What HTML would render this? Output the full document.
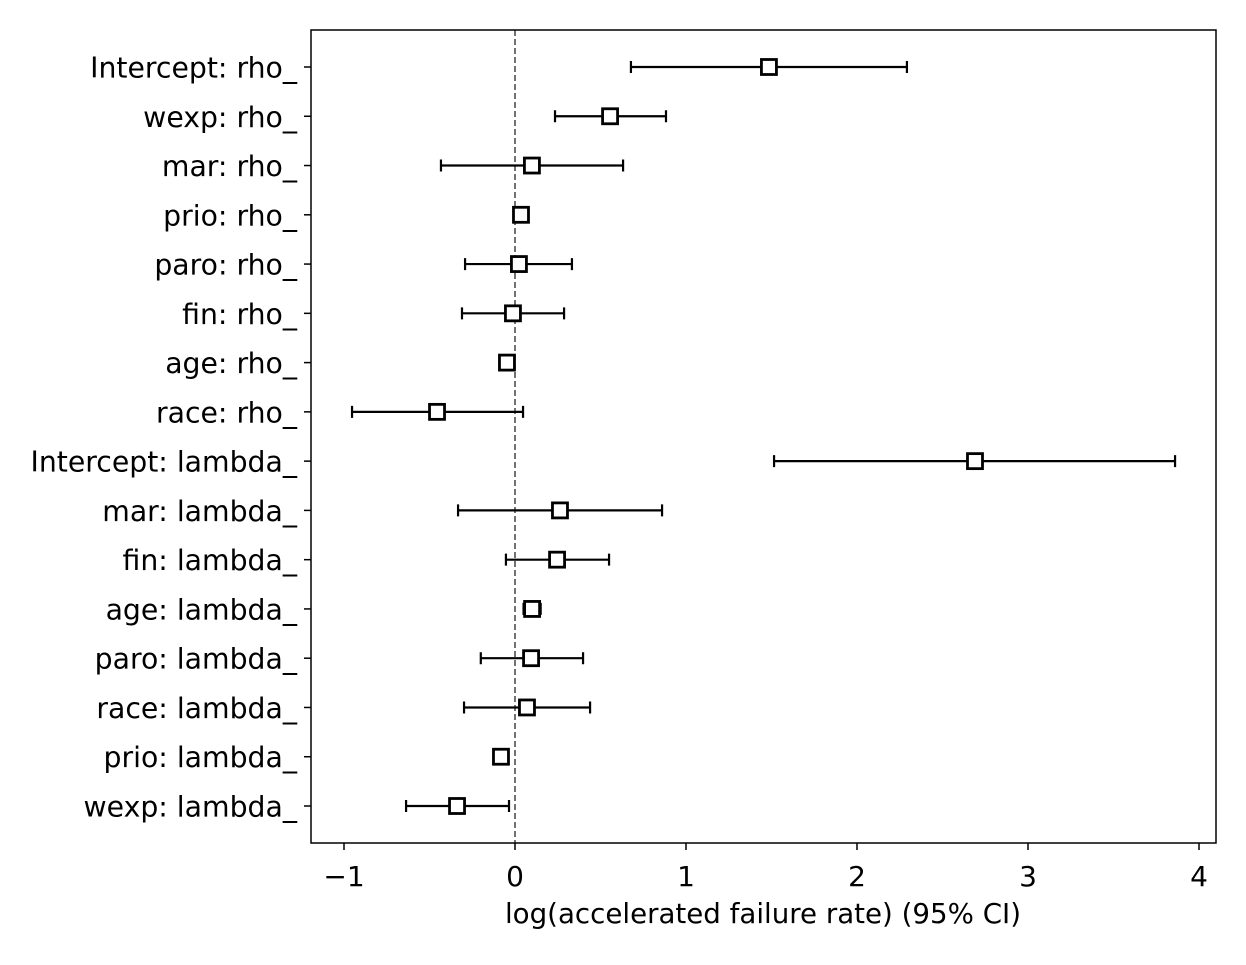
<!DOCTYPE html>
<html><head><meta charset="utf-8"><style>
body{margin:0;background:#fff;}
svg text{font-family:"DejaVu Sans","Liberation Sans",sans-serif;fill:#000;}
</style></head><body>
<svg id="chart" width="1246" height="960" xmlns="http://www.w3.org/2000/svg">
<rect width="1246" height="960" fill="#fff"/>
<g id="marks"></g>
<rect x="311" y="30" width="905" height="813" fill="none" stroke="#000" stroke-width="1.5"/>
<text x="763" y="923" font-size="28" text-anchor="middle" textLength="516" lengthAdjust="spacingAndGlyphs">log(accelerated failure rate) (95% CI)</text>
</svg>
<script>
const labels=["Intercept: rho_","wexp: rho_","mar: rho_","prio: rho_","paro: rho_","fin: rho_","age: rho_","race: rho_","Intercept: lambda_","mar: lambda_","fin: lambda_","age: lambda_","paro: lambda_","race: lambda_","prio: lambda_","wexp: lambda_"];
const coef=[1.485,0.556,0.099,0.035,0.023,-0.012,-0.047,-0.456,2.69,0.263,0.246,0.1,0.094,0.07,-0.082,-0.339];
const lower=[0.678,0.234,-0.433,0.02,-0.292,-0.31,-0.057,-0.953,1.515,-0.333,-0.053,0.05,-0.2,-0.298,-0.092,-0.637];
const upper=[2.292,0.883,0.632,0.05,0.333,0.287,-0.037,0.047,3.86,0.86,0.55,0.15,0.398,0.439,-0.072,-0.035];
const xticks=[-1,0,1,2,3,4];
const xTickLabels=["\u22121","0","1","2","3","4"];
const NS="http://www.w3.org/2000/svg";
const g=document.getElementById('marks');
const x=v=>515+v*171;
const y=i=>67+i*(806-67)/(labels.length-1);
function mk(t,a){const e=document.createElementNS(NS,t);for(const k in a)e.setAttribute(k,a[k]);g.appendChild(e);return e;}
let z=mk('line',{x1:x(0),x2:x(0),y1:30,y2:843,stroke:'#444','stroke-width':1.5,'stroke-dasharray':'6,3'});


xticks.forEach((v,i)=>{
 let t=mk('line',{x1:x(v),x2:x(v),y1:843,y2:850,stroke:'#000','stroke-width':1.5});
 
 
 let l=mk('text',{x:x(v),y:886,'font-size':28,'text-anchor':'middle'});l.textContent=xTickLabels[i];
 
 
});
labels.forEach((lab,i)=>{
 const yy=y(i);
 let t=mk('line',{x1:304,x2:311,y1:yy,y2:yy,stroke:'#000','stroke-width':1.5});
 
 
 let l=mk('text',{x:297,y:yy+10.5,'font-size':28.3,'text-anchor':'end'});l.textContent=lab;
 
 
 let e=mk('path',{d:`M${x(lower[i])},${yy}H${x(upper[i])}M${x(lower[i])},${yy-6}V${yy+6}M${x(upper[i])},${yy-6}V${yy+6}`,stroke:'#000','stroke-width':2.2,fill:'none'});
 
 
 let m=mk('rect',{x:x(coef[i])-7.5,y:yy-7.5,width:15,height:15,fill:'#fff',stroke:'#000','stroke-width':2.8});
 
 
});
</script>
</body></html>
